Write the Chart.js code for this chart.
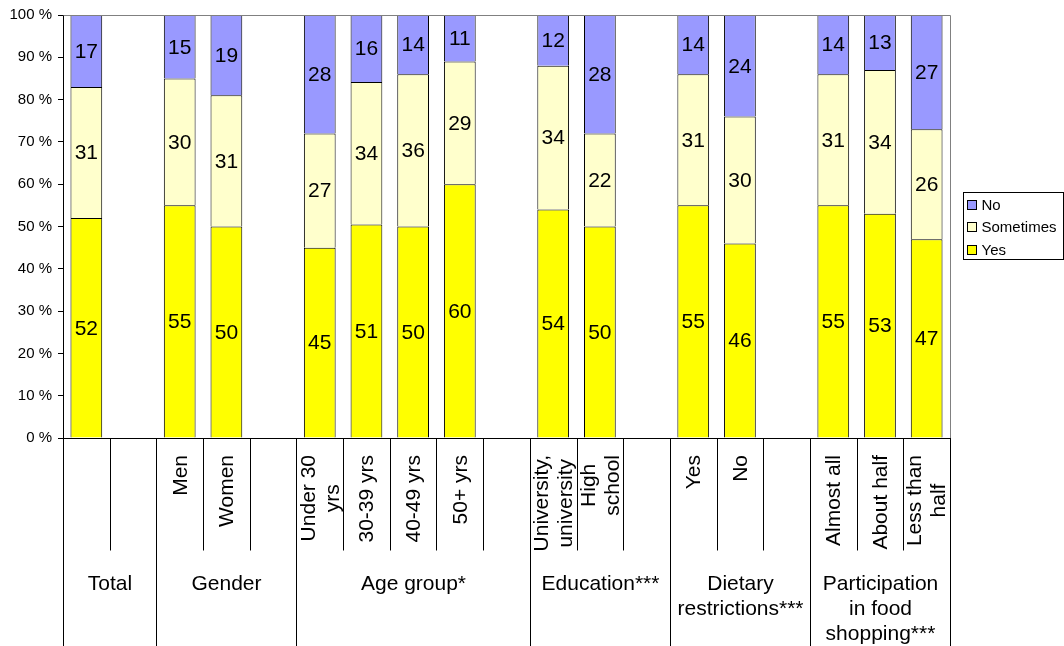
<!DOCTYPE html>
<html>
<head>
<meta charset="utf-8">
<script src="https://cdn.jsdelivr.net/npm/chart.js"></script>
<style>
  html, body { margin: 0; padding: 0; background: #fff; }
  canvas { display: block; }
</style>
</head>
<body>
<canvas id="chart" width="1064" height="646"></canvas>
<script>
// Kategorien der X-Achse (leere Einträge sind Abstände zwischen den Gruppen)
const categoryLabels = [
    [], [],
    ['Men'], ['Women'], [],
    ['Under 30', 'yrs'], ['30-39 yrs'], ['40-49 yrs'], ['50+ yrs'], [],
    ['University,', 'university'], ['High', 'school'], [],
    ['Yes'], ['No'], [],
    ['Almost all'], ['About half'], ['Less than', 'half']
];

// Obere Ebene der Achse: Gruppen mit erstem und letztem Kategorie-Index
const groupLabels = [
    ['Total'], ['Gender'], ['Age group*'], ['Education***'],
    ['Dietary', 'restrictions***'], ['Participation', 'in food', 'shopping***']
];
const groupFirst = [0, 2, 5, 10, 13, 16];
const groupLast = [1, 4, 9, 12, 15, 18];

// Werte in Prozent (wie in den Balken beschriftet)
const yesValues = [52, null, 55, 50, null, 45, 51, 50, 60, null, 54, 50, null, 55, 46, null, 55, 53, 47];
const sometimesValues = [31, null, 30, 31, null, 27, 34, 36, 29, null, 34, 22, null, 31, 30, null, 31, 34, 26];
const noValues = [17, null, 15, 19, null, 28, 16, 14, 11, null, 12, 28, null, 14, 24, null, 14, 13, 27];

const seriesNames = ['Yes', 'Sometimes', 'No'];
const seriesColors = ['#FFFF00', '#FFFFCC', '#9999FF'];

const FONT = 'Arial, "Liberation Sans", sans-serif';

// 100%-Stapel wie in Excel: jede Säule auf 100 normieren
function share(values, i) {
    if (values[i] == null) return null;
    const sum = yesValues[i] + sometimesValues[i] + noValues[i];
    return values[i] / sum * 100;
}

const allValues = [yesValues, sometimesValues, noValues];

const data = {
    labels: categoryLabels.map((l, i) => l.length ? l : ' '.repeat(i + 1)),
    datasets: allValues.map((vals, s) => ({
        label: seriesNames[s],
        data: vals.map((v, i) => share(vals, i)),
        rawValues: vals,
        backgroundColor: seriesColors[s],
        borderColor: '#000000',
        borderWidth: 1,
        barPercentage: 0.68,
        categoryPercentage: 1.0
    }))
};

// Eigenes Plugin: Wertebeschriftung, mehrstufige Kategorienachse, Rahmen und Legende
const excelPlugin = {
    id: 'excelPlugin',
    afterDatasetsDraw(chart) {
        const ctx = chart.ctx;
        ctx.save();
        ctx.fillStyle = '#000';
        ctx.font = '21px ' + FONT;
        ctx.textAlign = 'center';
        ctx.textBaseline = 'middle';
        chart.data.datasets.forEach((ds, di) => {
            const meta = chart.getDatasetMeta(di);
            meta.data.forEach((bar, i) => {
                if (ds.rawValues[i] == null) return;
                ctx.fillText(String(ds.rawValues[i]), bar.x, (bar.y + bar.base) / 2 + 1);
            });
        });
        ctx.restore();
    },
    afterDraw(chart) {
        const ctx = chart.ctx;
        const a = chart.chartArea;
        const x = chart.scales.x;
        const slot = x.getPixelForValue(1) - x.getPixelForValue(0);
        const edge = i => Math.round(x.getPixelForValue(i) - slot / 2) + 0.5;
        const bottom = Math.round(a.bottom) + 0.5;

        ctx.save();
        // Rahmen der Zeichenfläche oben und rechts
        ctx.strokeStyle = '#808080';
        ctx.lineWidth = 1;
        ctx.beginPath();
        ctx.moveTo(Math.round(a.left) + 0.5, Math.round(a.top) + 0.5);
        ctx.lineTo(Math.round(a.right) + 0.5, Math.round(a.top) + 0.5);
        ctx.lineTo(Math.round(a.right) + 0.5, bottom);
        ctx.stroke();

        // X-Achsenlinie
        ctx.strokeStyle = '#000';
        ctx.beginPath();
        ctx.moveTo(Math.round(a.left), bottom);
        ctx.lineTo(Math.round(a.right) + 1, bottom);
        ctx.stroke();

        // Trennlinien der Kategorien und Gruppen
        const groupEdges = new Set(groupFirst.concat([categoryLabels.length]));
        for (let i = 0; i <= categoryLabels.length; i++) {
            const px = edge(i);
            ctx.beginPath();
            ctx.moveTo(px, bottom);
            ctx.lineTo(px, groupEdges.has(i) ? chart.height : bottom + 112);
            ctx.stroke();
        }

        // Kategoriebeschriftung, um 90° gedreht
        ctx.fillStyle = '#000';
        ctx.font = '21px ' + FONT;
        ctx.textAlign = 'center';
        ctx.textBaseline = 'middle';
        categoryLabels.forEach((lines, i) => {
            if (!lines.length) return;
            const w = Math.max(...lines.map(l => ctx.measureText(l).width));
            ctx.save();
            ctx.translate(x.getPixelForValue(i), a.bottom + 17);
            ctx.rotate(-Math.PI / 2);
            lines.forEach((l, k) => {
                ctx.fillText(l, -w / 2, (k - (lines.length - 1) / 2) * 24 + 1);
            });
            ctx.restore();
        });

        // Gruppenbeschriftung
        ctx.textBaseline = 'alphabetic';
        groupLabels.forEach((lines, g) => {
            const cx = (edge(groupFirst[g]) + edge(groupLast[g] + 1)) / 2;
            lines.forEach((l, k) => ctx.fillText(l, cx, 590 + k * 25));
        });

        // Legende
        const lx = chart.width - 100.5, ly = 192.5;
        ctx.strokeStyle = '#000';
        ctx.strokeRect(lx, ly, 100, 67);
        ctx.font = '15px ' + FONT;
        ctx.textAlign = 'left';
        ctx.textBaseline = 'middle';
        const rows = [2, 1, 0];
        const rowY = [205, 227, 250];
        rows.forEach((s, r) => {
            ctx.fillStyle = seriesColors[s];
            ctx.fillRect(lx + 4, rowY[r] - 4.5, 9, 9);
            ctx.strokeRect(lx + 4, rowY[r] - 4.5, 9, 9);
            ctx.fillStyle = '#000';
            ctx.fillText(seriesNames[s], lx + 18, rowY[r] + 1);
        });
        ctx.restore();
    }
};

const config = {
    type: 'bar',
    data: data,
    options: {
        responsive: false,
        devicePixelRatio: 1,
        animation: false,
        layout: {
            padding: { left: 0, top: 15, right: 114, bottom: 208 }
        },
        scales: {
            x: {
                stacked: true,
                display: false
            },
            y: {
                stacked: true,
                min: 0,
                max: 100,
                ticks: {
                    stepSize: 10,
                    color: '#000',
                    padding: 6,
                    font: { size: 15, family: FONT },
                    callback: v => v + ' %'
                },
                grid: {
                    drawOnChartArea: false,
                    drawTicks: true,
                    tickLength: 5,
                    color: '#000'
                },
                border: { color: '#000', width: 1 },
                afterFit(scale) { scale.width = 63; }
            }
        },
        plugins: {
            legend: { display: false },
            tooltip: { enabled: false }
        }
    },
    plugins: [excelPlugin]
};

const surveyChart = new Chart(document.getElementById('chart').getContext('2d'), config);
</script>
</body>
</html>
